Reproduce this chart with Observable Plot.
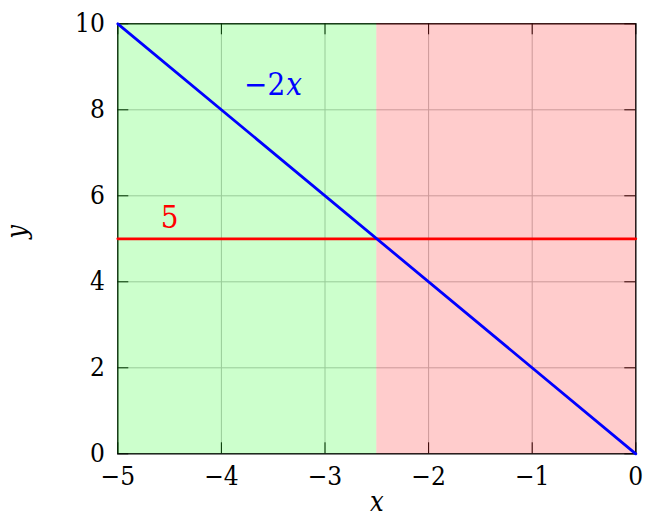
<!DOCTYPE html>
<html>
<head>
<meta charset="utf-8">
<script src="https://cdn.jsdelivr.net/npm/d3@7"></script>
<script src="https://cdn.jsdelivr.net/npm/@observablehq/plot@0.6"></script>
<style>
  html, body { margin: 0; padding: 0; background: white; }
</style>
</head>
<body>
<div id="chart"></div>
<script>
// ---- data ----
const xTicks = [-5, -4, -3, -2, -1, 0];
const yTicks = [0, 2, 4, 6, 8, 10];
const xDomain = [-5, 0];
const yDomain = [0, 10];

// line y = -2x
const blueX = [-5, 0];
const blueY = [10, 0];
// line y = 5
const redX = [-5, 0];
const redY = [5, 5];

// shaded regions (left: -2x > 5, right: -2x < 5)
const regionNames = ["above", "below"];
const regionStart = [-5, -2.5];
const regionEnd = [-2.5, 0];

// curve labels
const blueLabelPos = { x: -3.5, y: 8.5 };
const redLabelPos = { x: -4.5, y: 5 };

// ---- build tables ----
const blueLine = blueX.map((x, i) => ({ x, y: blueY[i] }));
const redLine = redX.map((x, i) => ({ x, y: redY[i] }));
const regions = regionNames.map((n, i) => ({ name: n, x1: regionStart[i], x2: regionEnd[i] }));

const W = 648, H = 521;
const mL = 117.3, mR = 12.7, mT = 23.3, mB = 67.7;
const plotW = W - mL - mR, plotH = H - mT - mB;
const tickPx = 11;
const tlx = tickPx * (xDomain[1] - xDomain[0]) / plotW;
const tly = tickPx * (yDomain[1] - yDomain[0]) / plotH;

const font = "DejaVu Serif Condensed, DejaVu Serif";
const tickFs = 26;
const labFs = 31;

const chart = Plot.plot({
  width: W,
  height: H,
  marginLeft: mL,
  marginRight: mR,
  marginTop: mT,
  marginBottom: mB,
  style: { fontFamily: font, background: "white", color: "black" },
  x: { domain: xDomain },
  y: { domain: yDomain },
  marks: [
    Plot.ruleX(xTicks, { x: d => d, y1: yDomain[0], y2: yDomain[1], stroke: "#bfbfbf", strokeWidth: 1 }),
    Plot.ruleY(yTicks, { y: d => d, x1: xDomain[0], x2: xDomain[1], stroke: "#bfbfbf", strokeWidth: 1 }),
    Plot.ruleX(xTicks, { x: d => d, y1: yDomain[0], y2: yDomain[0] + tly, stroke: "black", strokeWidth: 1 }),
    Plot.ruleX(xTicks, { x: d => d, y1: yDomain[1] - tly, y2: yDomain[1], stroke: "black", strokeWidth: 1 }),
    Plot.ruleY(yTicks, { y: d => d, x1: xDomain[0], x2: xDomain[0] + tlx, stroke: "black", strokeWidth: 1 }),
    Plot.ruleY(yTicks, { y: d => d, x1: xDomain[1] - tlx, x2: xDomain[1], stroke: "black", strokeWidth: 1 }),
    Plot.frame({ stroke: "black", strokeWidth: 1.3 }),
    Plot.rect(regions.filter(d => d.name === "above"), { x1: "x1", x2: "x2", y1: yDomain[0], y2: yDomain[1], fill: "#00ff00", fillOpacity: 0.2 }),
    Plot.rect(regions.filter(d => d.name === "below"), { x1: "x1", x2: "x2", y1: yDomain[0], y2: yDomain[1], fill: "#ff0000", fillOpacity: 0.2 }),
    Plot.line(redLine, { x: "x", y: "y", stroke: "#ff0000", strokeWidth: 2.8 }),
    Plot.line(blueLine, { x: "x", y: "y", stroke: "#0000ff", strokeWidth: 2.8 }),
    Plot.text([blueLabelPos], { x: "x", y: "y", text: () => "\u22122", textAnchor: "end", dx: 12, dy: -3, fill: "#0000ff", fontSize: labFs, fontFamily: font }),
    Plot.text([blueLabelPos], { x: "x", y: "y", text: () => "x", textAnchor: "start", dx: 13, dy: -3, fill: "#0000ff", fontSize: labFs, fontStyle: "italic", fontFamily: font }),
    Plot.text([redLabelPos], { x: "x", y: "y", text: () => "5", dy: -21, fill: "#ff0000", fontSize: labFs, fontFamily: font }),
    Plot.axisX(xTicks, { tickSize: 0, tickPadding: 13, fontSize: tickFs, label: null, fontFamily: font }),
    Plot.axisY(yTicks, { tickSize: 0, tickPadding: 13, fontSize: tickFs, label: null, fontFamily: font }),
    Plot.text(["x"], { frameAnchor: "bottom", dy: 57, fontSize: tickFs + 1, fontStyle: "italic", text: d => d, fontFamily: font }),
    Plot.text(["y"], { frameAnchor: "left", dx: -100, rotate: -90, fontSize: tickFs + 1, fontStyle: "italic", text: d => d, fontFamily: font })
  ]
});

document.getElementById("chart").appendChild(chart);
</script>
</body>
</html>
